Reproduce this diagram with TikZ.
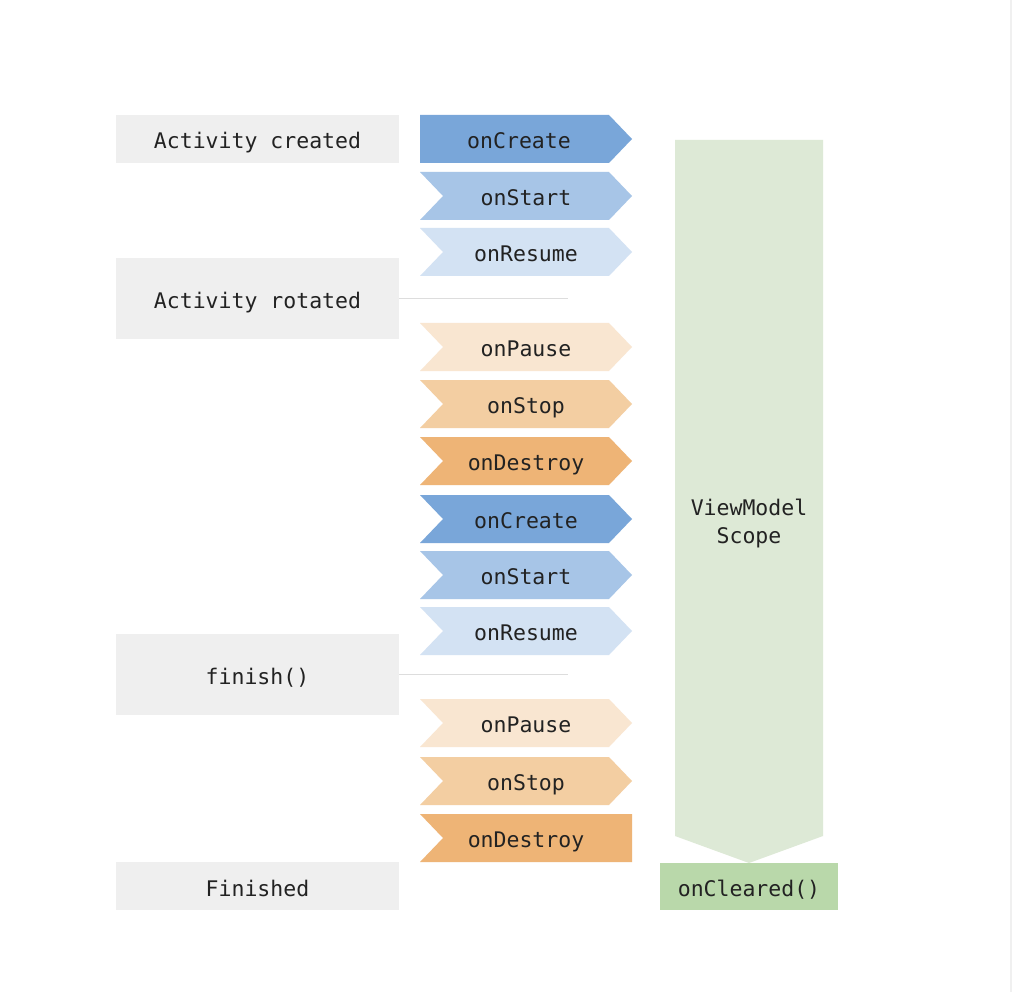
\documentclass[tikz,border=0pt]{standalone}
\usepackage{fontspec}
\setmainfont{DejaVu Sans Mono}
\definecolor{boxgray}{HTML}{EFEFEF}
\definecolor{blueA}{HTML}{79A6D9}
\definecolor{blueB}{HTML}{A7C5E7}
\definecolor{blueC}{HTML}{D3E2F3}
\definecolor{orA}{HTML}{F9E6D1}
\definecolor{orB}{HTML}{F3CEA2}
\definecolor{orC}{HTML}{EEB476}
\definecolor{scopegreen}{HTML}{DDE9D6}
\definecolor{cleargreen}{HTML}{B9D8AA}
\definecolor{txt}{HTML}{222222}
\definecolor{linegray}{HTML}{DDDDDD}
\newcommand\chevrow[7]{%
  % #1 top y, #2 colour, #3 notch depth, #4 tip depth, #5 name, #6 text x, #7 text
  \fill[#2] (420,#1) -- ({632-#4},#1) -- (632,{#1+24}) -- ({632-#4},{#1+48})
     -- (420,{#1+48}) -- ({420+#3},{#1+24}) -- cycle;
  \node[lbl] (#5) at (#6,{#1+24}) {#7};
}
\begin{document}
\begin{tikzpicture}[x=1pt,y=-1pt,
  every node/.style={font=\fontsize{21.5}{28}\selectfont, text=txt},
  lbl/.style={inner sep=0pt, text height=19pt, text depth=0pt},
  graybox/.style={fill=boxgray, inner sep=0pt, minimum width=283pt, text height=20pt, text depth=0pt},
  conn/.style={draw=linegray, line width=1.2pt}]
\fill[white] (0,0) rectangle (1020,992);
\useasboundingbox (0,0) rectangle (1020,992);
\draw[draw=black!6, line width=2pt] (1011,0) -- (1011,992);

% left boxes
\node[graybox, minimum height=48pt] (created) at (257.5,139) {Activity created};
\node[graybox, minimum height=81pt] (rotated) at (257.5,298.5) {Activity rotated};
\node[graybox, minimum height=81pt] (finish) at (257.5,674.5) {finish()};
\node[graybox, minimum height=48pt] (finished) at (257.5,886) {Finished};

% chevrons
\chevrow{115}{blueA}{0}{23}{c1}{519}{onCreate}
\chevrow{172}{blueB}{23}{23}{s1}{526}{onStart}
\chevrow{228}{blueC}{23}{23}{r1}{526}{onResume}
\chevrow{323}{orA}{23}{23}{p1}{526}{onPause}
\chevrow{380}{orB}{23}{23}{st1}{526}{onStop}
\chevrow{437}{orC}{23}{23}{d1}{526}{onDestroy}
\chevrow{495}{blueA}{23}{23}{c2}{526}{onCreate}
\chevrow{551}{blueB}{23}{23}{s2}{526}{onStart}
\chevrow{607}{blueC}{23}{23}{r2}{526}{onResume}
\chevrow{699}{orA}{23}{23}{p2}{526}{onPause}
\chevrow{757}{orB}{23}{23}{st2}{526}{onStop}
\chevrow{814}{orC}{23}{0}{d2}{526}{onDestroy}

% connectors
\coordinate (rotEnd) at (568,298.5);
\coordinate (finEnd) at (568,674.5);
\draw[conn] (rotated.east) -- (rotEnd);
\draw[conn] (finish.east) -- (finEnd);

% ViewModel scope
\fill[scopegreen] (675,140) -- (823,140) -- (823,836) -- (749,863) -- (675,836) -- cycle;
\node[align=center, inner sep=0pt] (scope) at (749,524) {ViewModel\\Scope};
\node[fill=cleargreen, inner sep=0pt, minimum width=178pt, minimum height=47pt,
      text height=20pt, text depth=0pt] (cleared) at (749,886.5) {onCleared()};
\end{tikzpicture}
\end{document}
